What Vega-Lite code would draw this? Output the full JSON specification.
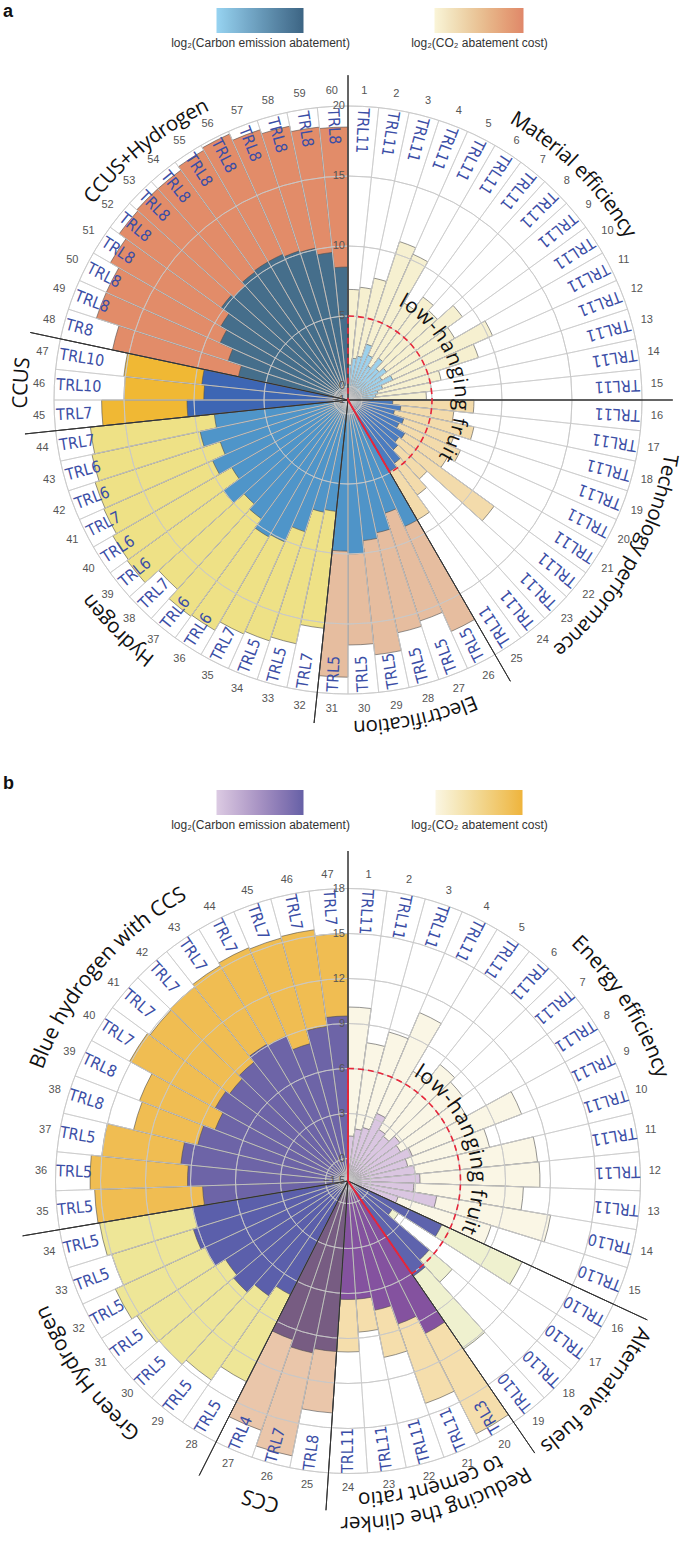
{
"$schema": "https://vega.github.io/schema/vega-lite/v6.json",
"width": 674, "height": 1552,
"autosize": {"type": "none"},
"padding": {"left": 11, "top": 0, "right": 0, "bottom": 0},
"background": "white",
"config": {"view": {"stroke": null}},
"datasets": {
"bars": [
{"panel":"a","id":1,"cat":"ME","cost":6.9,"ab":1.5,"trl":"TRL11"},
{"panel":"a","id":2,"cat":"ME","cost":7.1,"ab":2.0,"trl":"TRL11"},
{"panel":"a","id":3,"cat":"ME","cost":7.9,"ab":2.2,"trl":"TRL11"},
{"panel":"a","id":4,"cat":"ME","cost":10.9,"ab":3.2,"trl":"TRL11"},
{"panel":"a","id":5,"cat":"ME","cost":10.4,"ab":2.5,"trl":"TRL11"},
{"panel":"a","id":6,"cat":"ME","cost":7.0,"ab":1.8,"trl":"TRL11"},
{"panel":"a","id":7,"cat":"ME","cost":8.1,"ab":2.7,"trl":"TRL11"},
{"panel":"a","id":8,"cat":"ME","cost":7.6,"ab":2.0,"trl":"TRL11"},
{"panel":"a","id":9,"cat":"ME","cost":9.1,"ab":2.4,"trl":"TRL11"},
{"panel":"a","id":10,"cat":"ME","cost":7.8,"ab":1.8,"trl":"TRL11"},
{"panel":"a","id":11,"cat":"ME","cost":10.3,"ab":2.5,"trl":"TRL11"},
{"panel":"a","id":12,"cat":"ME","cost":8.8,"ab":1.6,"trl":"TRL11"},
{"panel":"a","id":13,"cat":"ME","cost":5.8,"ab":1.2,"trl":"TRL11"},
{"panel":"a","id":14,"cat":"ME","cost":5.0,"ab":1.0,"trl":"TRL11"},
{"panel":"a","id":15,"cat":"ME","cost":4.6,"ab":0.8,"trl":"TRL11"},
{"panel":"a","id":16,"cat":"TP","cost":8.0,"ab":2.2,"trl":"TRL11"},
{"panel":"a","id":17,"cat":"TP","cost":6.6,"ab":2.8,"trl":"TRL11"},
{"panel":"a","id":18,"cat":"TP","cost":8.2,"ab":2.4,"trl":"TRL11"},
{"panel":"a","id":19,"cat":"TP","cost":7.0,"ab":3.2,"trl":"TRL11"},
{"panel":"a","id":20,"cat":"TP","cost":7.8,"ab":3.0,"trl":"TRL11"},
{"panel":"a","id":21,"cat":"TP","cost":7.2,"ab":3.7,"trl":"TRL11"},
{"panel":"a","id":22,"cat":"TP","cost":11.9,"ab":3.5,"trl":"TRL11"},
{"panel":"a","id":23,"cat":"TP","cost":6.6,"ab":3.8,"trl":"TRL11"},
{"panel":"a","id":24,"cat":"TP","cost":7.4,"ab":4.6,"trl":"TRL11"},
{"panel":"a","id":25,"cat":"TP","cost":8.9,"ab":4.9,"trl":"TRL11"},
{"panel":"a","id":26,"cat":"EL","cost":17.1,"ab":8.9,"trl":"TRL5"},
{"panel":"a","id":27,"cat":"EL","cost":15.6,"ab":7.5,"trl":"TRL5"},
{"panel":"a","id":28,"cat":"EL","cost":16.0,"ab":8.7,"trl":"TRL5"},
{"panel":"a","id":29,"cat":"EL","cost":17.3,"ab":9.1,"trl":"TRL5"},
{"panel":"a","id":30,"cat":"EL","cost":16.5,"ab":10.0,"trl":"TRL5"},
{"panel":"a","id":31,"cat":"EL","cost":18.8,"ab":9.8,"trl":"TRL5"},
{"panel":"a","id":32,"cat":"HY","cost":15.4,"ab":7.0,"trl":"TRL7"},
{"panel":"a","id":33,"cat":"HY","cost":16.8,"ab":7.2,"trl":"TRL5"},
{"panel":"a","id":34,"cat":"HY","cost":17.1,"ab":8.9,"trl":"TRL5"},
{"panel":"a","id":35,"cat":"HY","cost":17.3,"ab":10.1,"trl":"TRL7"},
{"panel":"a","id":36,"cat":"HY","cost":18.0,"ab":10.3,"trl":"TRL6"},
{"panel":"a","id":37,"cat":"HY","cost":18.1,"ab":9.5,"trl":"TRL6"},
{"panel":"a","id":38,"cat":"HY","cost":17.2,"ab":9.0,"trl":"TRL7"},
{"panel":"a","id":39,"cat":"HY","cost":18.5,"ab":10.0,"trl":"TRL6"},
{"panel":"a","id":40,"cat":"HY","cost":18.4,"ab":8.6,"trl":"TRL6"},
{"panel":"a","id":41,"cat":"HY","cost":18.1,"ab":9.6,"trl":"TRL7"},
{"panel":"a","id":42,"cat":"HY","cost":18.0,"ab":8.6,"trl":"TRL6"},
{"panel":"a","id":43,"cat":"HY","cost":17.7,"ab":9.8,"trl":"TRL6"},
{"panel":"a","id":44,"cat":"HY","cost":17.5,"ab":8.6,"trl":"TRL7"},
{"panel":"a","id":45,"cat":"CU","cost":16.6,"ab":10.5,"trl":"TRL7"},
{"panel":"a","id":46,"cat":"CU","cost":15.0,"ab":9.3,"trl":"TRL10"},
{"panel":"a","id":47,"cat":"CU","cost":15.1,"ab":9.5,"trl":"TRL10"},
{"panel":"a","id":48,"cat":"CH","cost":16.2,"ab":7.0,"trl":"TR8"},
{"panel":"a","id":49,"cat":"CH","cost":17.9,"ab":8.0,"trl":"TRL8"},
{"panel":"a","id":50,"cat":"CH","cost":17.9,"ab":9.0,"trl":"TRL8"},
{"panel":"a","id":51,"cat":"CH","cost":18.6,"ab":9.5,"trl":"TRL8"},
{"panel":"a","id":52,"cat":"CH","cost":19.2,"ab":10.2,"trl":"TRL8"},
{"panel":"a","id":53,"cat":"CH","cost":19.3,"ab":10.0,"trl":"TRL8"},
{"panel":"a","id":54,"cat":"CH","cost":19.3,"ab":10.3,"trl":"TRL8"},
{"panel":"a","id":55,"cat":"CH","cost":19.6,"ab":10.4,"trl":"TRL8"},
{"panel":"a","id":56,"cat":"CH","cost":19.8,"ab":10.4,"trl":"TRL8"},
{"panel":"a","id":57,"cat":"CH","cost":19.3,"ab":10.2,"trl":"TRL8"},
{"panel":"a","id":58,"cat":"CH","cost":19.0,"ab":10.1,"trl":"TRL8"},
{"panel":"a","id":59,"cat":"CH","cost":18.6,"ab":9.6,"trl":"TRL8"},
{"panel":"a","id":60,"cat":"CH","cost":18.5,"ab":8.5,"trl":"TRL8"},
{"panel":"b","id":1,"cat":"EE","cost":10.1,"ab":1.5,"trl":"TRL11"},
{"panel":"b","id":2,"cat":"EE","cost":7.8,"ab":2.0,"trl":"TRL11"},
{"panel":"b","id":3,"cat":"EE","cost":8.8,"ab":2.2,"trl":"TRL11"},
{"panel":"b","id":4,"cat":"EE","cost":10.7,"ab":3.4,"trl":"TRL11"},
{"panel":"b","id":5,"cat":"EE","cost":7.0,"ab":2.5,"trl":"TRL11"},
{"panel":"b","id":6,"cat":"EE","cost":8.4,"ab":2.3,"trl":"TRL11"},
{"panel":"b","id":7,"cat":"EE","cost":8.0,"ab":2.8,"trl":"TRL11"},
{"panel":"b","id":8,"cat":"EE","cost":7.5,"ab":2.5,"trl":"TRL11"},
{"panel":"b","id":9,"cat":"EE","cost":10.9,"ab":3.1,"trl":"TRL11"},
{"panel":"b","id":10,"cat":"EE","cost":8.2,"ab":2.6,"trl":"TRL11"},
{"panel":"b","id":11,"cat":"EE","cost":11.2,"ab":3.0,"trl":"TRL11"},
{"panel":"b","id":12,"cat":"EE","cost":11.3,"ab":3.3,"trl":"TRL11"},
{"panel":"b","id":13,"cat":"EE","cost":10.2,"ab":2.9,"trl":"TRL11"},
{"panel":"b","id":14,"cat":"EE","cost":12.2,"ab":4.5,"trl":"TRL10"},
{"panel":"b","id":15,"cat":"EE","cost":8.5,"ab":2.0,"trl":"TRL10"},
{"panel":"b","id":16,"cat":"AF","cost":11.3,"ab":5.4,"trl":"TRL10"},
{"panel":"b","id":17,"cat":"AF","cost":2.5,"ab":2.0,"trl":"TRL10"},
{"panel":"b","id":18,"cat":"AF","cost":7.6,"ab":5.6,"trl":"TRL10"},
{"panel":"b","id":19,"cat":"AF","cost":12.1,"ab":6.2,"trl":"TRL10"},
{"panel":"b","id":20,"cat":"RC","cost":17.4,"ab":9.9,"trl":"TRL3"},
{"panel":"b","id":21,"cat":"RC","cost":14.2,"ab":8.6,"trl":"TRL11"},
{"panel":"b","id":22,"cat":"RC","cost":10.5,"ab":7.3,"trl":"TRL11"},
{"panel":"b","id":23,"cat":"RC","cost":8.6,"ab":6.4,"trl":"TRL11"},
{"panel":"b","id":24,"cat":"RC","cost":9.9,"ab":6.4,"trl":"TRL11"},
{"panel":"b","id":25,"cat":"CS","cost":14.0,"ab":9.9,"trl":"TRL8"},
{"panel":"b","id":26,"cat":"CS","cost":17.2,"ab":10.2,"trl":"TRL7"},
{"panel":"b","id":27,"cat":"CS","cost":16.1,"ab":9.7,"trl":"TRL4"},
{"panel":"b","id":28,"cat":"GH","cost":13.5,"ab":7.0,"trl":"TRL5"},
{"panel":"b","id":29,"cat":"GH","cost":14.6,"ab":7.8,"trl":"TRL5"},
{"panel":"b","id":30,"cat":"GH","cost":15.0,"ab":8.5,"trl":"TRL5"},
{"panel":"b","id":31,"cat":"GH","cost":15.2,"ab":8.2,"trl":"TRL5"},
{"panel":"b","id":32,"cat":"GH","cost":15.6,"ab":9.0,"trl":"TRL5"},
{"panel":"b","id":33,"cat":"GH","cost":15.0,"ab":9.3,"trl":"TRL5"},
{"panel":"b","id":34,"cat":"GH","cost":15.3,"ab":9.0,"trl":"TRL5"},
{"panel":"b","id":35,"cat":"BH","cost":15.4,"ab":8.2,"trl":"TRL5"},
{"panel":"b","id":36,"cat":"BH","cost":15.7,"ab":9.2,"trl":"TRL5"},
{"panel":"b","id":37,"cat":"BH","cost":15.0,"ab":9.7,"trl":"TRL5"},
{"panel":"b","id":38,"cat":"BH","cost":13.2,"ab":8.8,"trl":"TRL8"},
{"panel":"b","id":39,"cat":"BH","cost":13.4,"ab":8.0,"trl":"TRL8"},
{"panel":"b","id":40,"cat":"BH","cost":15.1,"ab":8.6,"trl":"TRL7"},
{"panel":"b","id":41,"cat":"BH","cost":14.9,"ab":8.3,"trl":"TRL7"},
{"panel":"b","id":42,"cat":"BH","cost":15.0,"ab":8.6,"trl":"TRL7"},
{"panel":"b","id":43,"cat":"BH","cost":15.2,"ab":9.1,"trl":"TRL7"},
{"panel":"b","id":44,"cat":"BH","cost":15.4,"ab":9.0,"trl":"TRL7"},
{"panel":"b","id":45,"cat":"BH","cost":15.3,"ab":8.0,"trl":"TRL7"},
{"panel":"b","id":46,"cat":"BH","cost":15.4,"ab":8.9,"trl":"TRL7"},
{"panel":"b","id":47,"cat":"BH","cost":15.0,"ab":9.5,"trl":"TRL7"}
],
"cats": [
{"panel":"a","kind":"cat","text":"Material efficiency","first":1,"last":15},
{"panel":"a","kind":"cat","text":"Technology performance","first":16,"last":25},
{"panel":"a","kind":"cat","text":"Electrification","first":26,"last":31},
{"panel":"a","kind":"cat","text":"Hydrogen","first":32,"last":44},
{"panel":"a","kind":"cat","text":"CCUS","first":45,"last":47},
{"panel":"a","kind":"cat","text":"CCUS+Hydrogen","first":48,"last":60},
{"panel":"a","kind":"lhf","text":"low-hanging fruit","first":1,"last":25},
{"panel":"b","kind":"cat","text":"Energy efficiency","first":1,"last":15},
{"panel":"b","kind":"cat","text":"Alternative fuels","first":16,"last":19},
{"panel":"b","kind":"catout","text":"Reducing the clinker","first":20,"last":24},
{"panel":"b","kind":"catin","text":"to cement ratio","first":20,"last":24},
{"panel":"b","kind":"cat","text":"CCS","first":25,"last":27},
{"panel":"b","kind":"cat","text":"Green Hydrogen","first":28,"last":34},
{"panel":"b","kind":"cat","text":"Blue hydrogen with CCS","first":35,"last":47},
{"panel":"b","kind":"lhf","text":"low-hanging fruit","first":1,"last":19}
],
"ticks": [
{"panel":"a","v":-1},{"panel":"a","v":0},{"panel":"a","v":5},{"panel":"a","v":10},{"panel":"a","v":15},{"panel":"a","v":20},
{"panel":"b","v":-1.5},{"panel":"b","v":0},{"panel":"b","v":3},{"panel":"b","v":6},{"panel":"b","v":9},{"panel":"b","v":12},{"panel":"b","v":15},{"panel":"b","v":18}
]
},
"layer": [
{
"data": {"name": "bars"},
"transform": [{"filter": "datum.panel=='a'"},{"calculate": "(datum.id-1)/60","as": "t0"},{"calculate": "datum.id/60","as": "t1"}],
"mark": {"type": "arc","fillOpacity": 0,"strokeOpacity": 0},
"encoding": {
"y": {"field":"panel","type":"nominal","scale":{"type":"point","domain":["a","b"],"range":[400,1181],"padding":0},"axis":null},
"theta": {"field":"t0","type":"quantitative","scale":{"domain":[0,1],"range":[0,6.283185307179586]},"stack":null},
"theta2": {"field":"t1"},
"radius": {"field":"ab","type":"quantitative","scale":{"type":"linear","domain":[-1,20],"range":[0,294]},"stack":null},
"color": {"field":"ab","type":"quantitative","scale":{"range":["#97d3f1","#3d6584"]},
"legend":{"orient":"none","legendX":160.5,"legendY":8,"direction":"horizontal","gradientLength":87,"gradientThickness":25,"gradientStrokeWidth":0,"gradientOpacity":1,"labelExpr":"''","labelFontSize":1,"labelOpacity":0,"labelOffset":0,"title":"log₂(Carbon emission abatement)","titleOrient":"bottom","titleAnchor":"middle","titleFontSize":12,"titleFontWeight":"normal","titleFont":"Liberation Sans Narrow, Liberation Sans, sans-serif","titleColor":"#333","titlePadding":4,"padding":0}}
}
},
{
"data": {"name": "bars"},
"transform": [{"filter": "datum.panel=='a'"},{"calculate": "(datum.id-1)/60","as": "t0"},{"calculate": "datum.id/60","as": "t1"}],
"mark": {"type": "arc","fillOpacity": 0,"strokeOpacity": 0},
"encoding": {
"y": {"field":"panel","type":"nominal","scale":{"type":"point","domain":["a","b"],"range":[400,1181],"padding":0},"axis":null},
"theta": {"field":"t0","type":"quantitative","scale":{"domain":[0,1],"range":[0,6.283185307179586]},"stack":null},
"theta2": {"field":"t1"},
"radius": {"field":"cost","type":"quantitative","scale":{"type":"linear","domain":[-1,20],"range":[0,294]},"stack":null},
"color": {"field":"cost","type":"quantitative","scale":{"range":["#faf5d8","#e0876a"]},
"legend":{"orient":"none","legendX":400.5,"legendY":8,"direction":"horizontal","gradientLength":89,"gradientThickness":25,"gradientStrokeWidth":0,"gradientOpacity":1,"labelExpr":"''","labelFontSize":1,"labelOpacity":0,"labelOffset":0,"title":"log₂(CO₂ abatement cost)","titleOrient":"bottom","titleAnchor":"middle","titleFontSize":12,"titleFontWeight":"normal","titleFont":"Liberation Sans Narrow, Liberation Sans, sans-serif","titleColor":"#333","titlePadding":4,"padding":0}}
}
},
{
"data": {"name": "bars"},
"transform": [{"filter": "datum.panel=='b'"},{"calculate": "(datum.id-1)/47","as": "t0"},{"calculate": "datum.id/47","as": "t1"}],
"mark": {"type": "arc","fillOpacity": 0,"strokeOpacity": 0},
"encoding": {
"y": {"field":"panel","type":"nominal","scale":{"type":"point","domain":["a","b"],"range":[400,1181],"padding":0},"axis":null},
"theta": {"field":"t0","type":"quantitative","scale":{"domain":[0,1],"range":[0,6.283185307179586]},"stack":null},
"theta2": {"field":"t1"},
"radius": {"field":"ab","type":"quantitative","scale":{"type":"linear","domain":[-1.5,18],"range":[0,292.5]},"stack":null},
"color": {"field":"ab","type":"quantitative","scale":{"range":["#dccbe3","#6660a6"]},
"legend":{"orient":"none","legendX":160.5,"legendY":790,"direction":"horizontal","gradientLength":87,"gradientThickness":25,"gradientStrokeWidth":0,"gradientOpacity":1,"labelExpr":"''","labelFontSize":1,"labelOpacity":0,"labelOffset":0,"title":"log₂(Carbon emission abatement)","titleOrient":"bottom","titleAnchor":"middle","titleFontSize":12,"titleFontWeight":"normal","titleFont":"Liberation Sans Narrow, Liberation Sans, sans-serif","titleColor":"#333","titlePadding":4,"padding":0}}
}
},
{
"data": {"name": "bars"},
"transform": [{"filter": "datum.panel=='b'"},{"calculate": "(datum.id-1)/47","as": "t0"},{"calculate": "datum.id/47","as": "t1"}],
"mark": {"type": "arc","fillOpacity": 0,"strokeOpacity": 0},
"encoding": {
"y": {"field":"panel","type":"nominal","scale":{"type":"point","domain":["a","b"],"range":[400,1181],"padding":0},"axis":null},
"theta": {"field":"t0","type":"quantitative","scale":{"domain":[0,1],"range":[0,6.283185307179586]},"stack":null},
"theta2": {"field":"t1"},
"radius": {"field":"cost","type":"quantitative","scale":{"type":"linear","domain":[-1.5,18],"range":[0,292.5]},"stack":null},
"color": {"field":"cost","type":"quantitative","scale":{"range":["#fbf6e3","#efb43c"]},
"legend":{"orient":"none","legendX":400.5,"legendY":790,"direction":"horizontal","gradientLength":87,"gradientThickness":25,"gradientStrokeWidth":0,"gradientOpacity":1,"labelExpr":"''","labelFontSize":1,"labelOpacity":0,"labelOffset":0,"title":"log₂(CO₂ abatement cost)","titleOrient":"bottom","titleAnchor":"middle","titleFontSize":12,"titleFontWeight":"normal","titleFont":"Liberation Sans Narrow, Liberation Sans, sans-serif","titleColor":"#333","titlePadding":4,"padding":0}}
}
},
{
"data": {"name": "bars"},
"transform": [{"filter": "datum.panel=='a'"},{"calculate": "(datum.id-1)/60","as": "t0"},{"calculate": "datum.id/60","as": "t1"},{"calculate": "-1","as": "r0"}],
"mark": {"type": "arc","stroke": "#4d4d4d","strokeWidth": 0.6},
"encoding": {
"y": {"field":"panel","type":"nominal","scale":{"type":"point","domain":["a","b"],"range":[400,1181],"padding":0},"axis":null},
"theta": {"field":"t0","type":"quantitative","scale":{"domain":[0,1],"range":[0,6.283185307179586]},"stack":null},
"theta2": {"field":"t1"},
"radius": {"field":"cost","type":"quantitative","scale":{"type":"linear","domain":[-1,20],"range":[0,294]},"stack":null},
"radius2": {"field":"r0"},
"fill": {"field":"cat","type":"nominal","scale":{"domain":["ME","TP","EL","HY","CU","CH"],"range":["#f6f0d0","#f3dbab","#e6bd9f","#eee186","#f0b834","#e28c69"]},"legend":null}
}
},
{
"data": {"name": "bars"},
"transform": [{"filter": "datum.panel=='a'"},{"calculate": "(datum.id-1)/60","as": "t0"},{"calculate": "datum.id/60","as": "t1"},{"calculate": "-1","as": "r0"}],
"mark": {"type": "arc","stroke": "#4d4d4d","strokeWidth": 0.6},
"encoding": {
"y": {"field":"panel","type":"nominal","scale":{"type":"point","domain":["a","b"],"range":[400,1181],"padding":0},"axis":null},
"theta": {"field":"t0","type":"quantitative","scale":{"domain":[0,1],"range":[0,6.283185307179586]},"stack":null},
"theta2": {"field":"t1"},
"radius": {"field":"ab","type":"quantitative","scale":{"type":"linear","domain":[-1,20],"range":[0,294]},"stack":null},
"radius2": {"field":"r0"},
"fill": {"field":"cat","type":"nominal","scale":{"domain":["ME","TP","EL","HY","CU","CH"],"range":["#9dd1ec","#4b7cc0","#4f94c8","#4f95c9","#3d66b4","#456e8b"]},"legend":null}
}
},
{
"data": {"name": "bars"},
"transform": [{"filter": "datum.panel=='b'"},{"calculate": "(datum.id-1)/47","as": "t0"},{"calculate": "datum.id/47","as": "t1"},{"calculate": "-1.5","as": "r0"}],
"mark": {"type": "arc","stroke": "#4d4d4d","strokeWidth": 0.6},
"encoding": {
"y": {"field":"panel","type":"nominal","scale":{"type":"point","domain":["a","b"],"range":[400,1181],"padding":0},"axis":null},
"theta": {"field":"t0","type":"quantitative","scale":{"domain":[0,1],"range":[0,6.283185307179586]},"stack":null},
"theta2": {"field":"t1"},
"radius": {"field":"cost","type":"quantitative","scale":{"type":"linear","domain":[-1.5,18],"range":[0,292.5]},"stack":null},
"radius2": {"field":"r0"},
"fill": {"field":"cat","type":"nominal","scale":{"domain":["EE","AF","RC","CS","GH","BH"],"range":["#faf6e5","#eff1cf","#f5deac","#eac6aa","#eee697","#f0bd52"]},"legend":null}
}
},
{
"data": {"name": "bars"},
"transform": [{"filter": "datum.panel=='b'"},{"calculate": "(datum.id-1)/47","as": "t0"},{"calculate": "datum.id/47","as": "t1"},{"calculate": "-1.5","as": "r0"}],
"mark": {"type": "arc","stroke": "#4d4d4d","strokeWidth": 0.6},
"encoding": {
"y": {"field":"panel","type":"nominal","scale":{"type":"point","domain":["a","b"],"range":[400,1181],"padding":0},"axis":null},
"theta": {"field":"t0","type":"quantitative","scale":{"domain":[0,1],"range":[0,6.283185307179586]},"stack":null},
"theta2": {"field":"t1"},
"radius": {"field":"ab","type":"quantitative","scale":{"type":"linear","domain":[-1.5,18],"range":[0,292.5]},"stack":null},
"radius2": {"field":"r0"},
"fill": {"field":"cat","type":"nominal","scale":{"domain":["EE","AF","RC","CS","GH","BH"],"range":["#dac6e1","#5e63ad","#84529f","#775c82","#5b5fab","#6d64a7"]},"legend":null}
}
},
{
"data": {"name": "ticks"},
"transform": [{"filter": "datum.panel=='a' && datum.v>=0"},{"calculate": "0","as": "z0"},{"calculate": "1","as": "z1"}],
"mark": {"type": "arc","filled": false,"stroke": "#c8c8c8","strokeWidth": 0.8},
"encoding": {
"y": {"field":"panel","type":"nominal","scale":{"type":"point","domain":["a","b"],"range":[400,1181],"padding":0},"axis":null},
"theta": {"field":"z0","type":"quantitative","scale":{"domain":[0,1],"range":[0,6.283185307179586]},"stack":null},
"theta2": {"field":"z1"},
"radius": {"field":"v","type":"quantitative","scale":{"type":"linear","domain":[-1,20],"range":[0,294]},"stack":null},
"radius2": {"field":"v"}
}
},
{
"data": {"name": "ticks"},
"transform": [{"filter": "datum.panel=='b' && datum.v>=0"},{"calculate": "0","as": "z0"},{"calculate": "1","as": "z1"}],
"mark": {"type": "arc","filled": false,"stroke": "#c8c8c8","strokeWidth": 0.8},
"encoding": {
"y": {"field":"panel","type":"nominal","scale":{"type":"point","domain":["a","b"],"range":[400,1181],"padding":0},"axis":null},
"theta": {"field":"z0","type":"quantitative","scale":{"domain":[0,1],"range":[0,6.283185307179586]},"stack":null},
"theta2": {"field":"z1"},
"radius": {"field":"v","type":"quantitative","scale":{"type":"linear","domain":[-1.5,18],"range":[0,292.5]},"stack":null},
"radius2": {"field":"v"}
}
},
{
"data": {"name": "bars"},
"transform": [{"filter": "datum.panel=='a'"},{"calculate": "(datum.id-1)/60","as": "t0"},{"calculate": "20","as": "r1"},{"calculate": "-1","as": "r0"}],
"mark": {"type": "arc","filled": false,"stroke": "#c8c8c8","strokeWidth": 0.7},
"encoding": {
"y": {"field":"panel","type":"nominal","scale":{"type":"point","domain":["a","b"],"range":[400,1181],"padding":0},"axis":null},
"theta": {"field":"t0","type":"quantitative","scale":{"domain":[0,1],"range":[0,6.283185307179586]},"stack":null},
"theta2": {"field":"t0"},
"radius": {"field":"r1","type":"quantitative","scale":{"type":"linear","domain":[-1,20],"range":[0,294]},"stack":null},
"radius2": {"field":"r0"}
}
},
{
"data": {"name": "bars"},
"transform": [{"filter": "datum.panel=='b'"},{"calculate": "(datum.id-1)/47","as": "t0"},{"calculate": "18","as": "r1"},{"calculate": "-1.5","as": "r0"}],
"mark": {"type": "arc","filled": false,"stroke": "#c8c8c8","strokeWidth": 0.7},
"encoding": {
"y": {"field":"panel","type":"nominal","scale":{"type":"point","domain":["a","b"],"range":[400,1181],"padding":0},"axis":null},
"theta": {"field":"t0","type":"quantitative","scale":{"domain":[0,1],"range":[0,6.283185307179586]},"stack":null},
"theta2": {"field":"t0"},
"radius": {"field":"r1","type":"quantitative","scale":{"type":"linear","domain":[-1.5,18],"range":[0,292.5]},"stack":null},
"radius2": {"field":"r0"}
}
},
{
"data": {"name": "cats"},
"transform": [{"filter": "datum.panel=='a' && datum.kind=='cat'"},{"calculate": "(datum.first-1)/60","as": "te"},{"calculate": "22.2","as": "r1"},{"calculate": "-1","as": "r0"}],
"mark": {"type": "arc","filled": false,"stroke": "#333333","strokeWidth": 1},
"encoding": {
"y": {"field":"panel","type":"nominal","scale":{"type":"point","domain":["a","b"],"range":[400,1181],"padding":0},"axis":null},
"theta": {"field":"te","type":"quantitative","scale":{"domain":[0,1],"range":[0,6.283185307179586]},"stack":null},
"theta2": {"field":"te"},
"radius": {"field":"r1","type":"quantitative","scale":{"type":"linear","domain":[-1,20],"range":[0,294]},"stack":null},
"radius2": {"field":"r0"}
}
},
{
"data": {"name": "cats"},
"transform": [{"filter": "datum.panel=='b' && (datum.kind=='cat' || datum.kind=='catout')"},{"calculate": "(datum.first-1)/47","as": "te"},{"calculate": "20.5","as": "r1"},{"calculate": "-1.5","as": "r0"}],
"mark": {"type": "arc","filled": false,"stroke": "#333333","strokeWidth": 1},
"encoding": {
"y": {"field":"panel","type":"nominal","scale":{"type":"point","domain":["a","b"],"range":[400,1181],"padding":0},"axis":null},
"theta": {"field":"te","type":"quantitative","scale":{"domain":[0,1],"range":[0,6.283185307179586]},"stack":null},
"theta2": {"field":"te"},
"radius": {"field":"r1","type":"quantitative","scale":{"type":"linear","domain":[-1.5,18],"range":[0,292.5]},"stack":null},
"radius2": {"field":"r0"}
}
},
{
"data": {"name": "cats"},
"transform": [{"filter": "datum.panel=='a' && datum.kind=='lhf'"},{"calculate": "datum.last/60","as": "te"},{"calculate": "0","as": "z0"},{"calculate": "5","as": "r1"},{"calculate": "-1","as": "r0"}],
"mark": {"type": "arc","filled": false,"stroke": "#e8263a","strokeWidth": 1.6,"strokeDash": [6,4]},
"encoding": {
"y": {"field":"panel","type":"nominal","scale":{"type":"point","domain":["a","b"],"range":[400,1181],"padding":0},"axis":null},
"theta": {"field":"z0","type":"quantitative","scale":{"domain":[0,1],"range":[0,6.283185307179586]},"stack":null},
"theta2": {"field":"te"},
"radius": {"field":"r1","type":"quantitative","scale":{"type":"linear","domain":[-1,20],"range":[0,294]},"stack":null},
"radius2": {"field":"r0"}
}
},
{
"data": {"name": "cats"},
"transform": [{"filter": "datum.panel=='b' && datum.kind=='lhf'"},{"calculate": "datum.last/47","as": "te"},{"calculate": "0","as": "z0"},{"calculate": "6","as": "r1"},{"calculate": "-1.5","as": "r0"}],
"mark": {"type": "arc","filled": false,"stroke": "#e8263a","strokeWidth": 1.6,"strokeDash": [6,4]},
"encoding": {
"y": {"field":"panel","type":"nominal","scale":{"type":"point","domain":["a","b"],"range":[400,1181],"padding":0},"axis":null},
"theta": {"field":"z0","type":"quantitative","scale":{"domain":[0,1],"range":[0,6.283185307179586]},"stack":null},
"theta2": {"field":"te"},
"radius": {"field":"r1","type":"quantitative","scale":{"type":"linear","domain":[-1.5,18],"range":[0,292.5]},"stack":null},
"radius2": {"field":"r0"}
}
},
{
"data": {"name": "cats"},
"transform": [{"filter": "datum.panel=='a' && datum.kind=='lhf'"},{"calculate": "datum.last/60","as": "te"},{"calculate": "5","as": "r1"},{"calculate": "-1","as": "r0"}],
"mark": {"type": "arc","filled": false,"stroke": "#e8263a","strokeWidth": 1.8},
"encoding": {
"y": {"field":"panel","type":"nominal","scale":{"type":"point","domain":["a","b"],"range":[400,1181],"padding":0},"axis":null},
"theta": {"field":"te","type":"quantitative","scale":{"domain":[0,1],"range":[0,6.283185307179586]},"stack":null},
"theta2": {"field":"te"},
"radius": {"field":"r1","type":"quantitative","scale":{"type":"linear","domain":[-1,20],"range":[0,294]},"stack":null},
"radius2": {"field":"r0"}
}
},
{
"data": {"name": "cats"},
"transform": [{"filter": "datum.panel=='b' && datum.kind=='lhf'"},{"calculate": "datum.last/47","as": "te"},{"calculate": "6","as": "r1"},{"calculate": "-1.5","as": "r0"}],
"mark": {"type": "arc","filled": false,"stroke": "#e8263a","strokeWidth": 1.8},
"encoding": {
"y": {"field":"panel","type":"nominal","scale":{"type":"point","domain":["a","b"],"range":[400,1181],"padding":0},"axis":null},
"theta": {"field":"te","type":"quantitative","scale":{"domain":[0,1],"range":[0,6.283185307179586]},"stack":null},
"theta2": {"field":"te"},
"radius": {"field":"r1","type":"quantitative","scale":{"type":"linear","domain":[-1.5,18],"range":[0,292.5]},"stack":null},
"radius2": {"field":"r0"}
}
},
{
"data": {"name": "cats"},
"transform": [{"filter": "datum.panel=='b' && datum.kind=='lhf'"},{"calculate": "(datum.first-1)/47","as": "ts"},{"calculate": "6","as": "r1"},{"calculate": "-1.5","as": "r0"}],
"mark": {"type": "arc","filled": false,"stroke": "#e8263a","strokeWidth": 1.8},
"encoding": {
"y": {"field":"panel","type":"nominal","scale":{"type":"point","domain":["a","b"],"range":[400,1181],"padding":0},"axis":null},
"theta": {"field":"ts","type":"quantitative","scale":{"domain":[0,1],"range":[0,6.283185307179586]},"stack":null},
"theta2": {"field":"ts"},
"radius": {"field":"r1","type":"quantitative","scale":{"type":"linear","domain":[-1.5,18],"range":[0,292.5]},"stack":null},
"radius2": {"field":"r0"}
}
},
{
"data": {"name": "ticks"},
"transform": [{"filter": "datum.panel=='a'"},{"calculate": "0","as": "z0"}],
"mark": {"type": "text","align": "right","baseline": "middle","dx": -3,"fontSize": 11,"font": "Liberation Sans, sans-serif","color": "#555555"},
"encoding": {
"y": {"field":"panel","type":"nominal","scale":{"type":"point","domain":["a","b"],"range":[400,1181],"padding":0},"axis":null},
"theta": {"field":"z0","type":"quantitative","scale":{"domain":[0,1],"range":[0,6.283185307179586]},"stack":null},
"radius": {"field":"v","type":"quantitative","scale":{"type":"linear","domain":[-1,20],"range":[0,294]},"stack":null},
"text": {"field":"v","type":"quantitative"}
}
},
{
"data": {"name": "ticks"},
"transform": [{"filter": "datum.panel=='b'"},{"calculate": "0","as": "z0"}],
"mark": {"type": "text","align": "right","baseline": "middle","dx": -3,"fontSize": 11,"font": "Liberation Sans, sans-serif","color": "#555555"},
"encoding": {
"y": {"field":"panel","type":"nominal","scale":{"type":"point","domain":["a","b"],"range":[400,1181],"padding":0},"axis":null},
"theta": {"field":"z0","type":"quantitative","scale":{"domain":[0,1],"range":[0,6.283185307179586]},"stack":null},
"radius": {"field":"v","type":"quantitative","scale":{"type":"linear","domain":[-1.5,18],"range":[0,292.5]},"stack":null},
"text": {"field":"v","type":"quantitative"}
}
},
{
"data": {"name": "bars"},
"transform": [{"filter": "datum.panel=='a'"},{"calculate": "(datum.id-0.5)/60","as": "tm"},{"calculate": "datum.tm*360+90","as": "rot"},{"calculate": "19.86","as": "rl"}],
"mark": {"type": "text","align": "left","baseline": "middle","fontSize": 16,"font": "Liberation Sans Narrow, DejaVu Sans Condensed, sans-serif","color": "#3b4ea6"},
"encoding": {
"y": {"field":"panel","type":"nominal","scale":{"type":"point","domain":["a","b"],"range":[400,1181],"padding":0},"axis":null},
"theta": {"field":"tm","type":"quantitative","scale":{"domain":[0,1],"range":[0,6.283185307179586]},"stack":null},
"radius": {"field":"rl","type":"quantitative","scale":{"type":"linear","domain":[-1,20],"range":[0,294]},"stack":null},
"angle": {"field":"rot","type":"quantitative","scale":null},
"text": {"field":"trl","type":"nominal"}
}
},
{
"data": {"name": "bars"},
"transform": [{"filter": "datum.panel=='b'"},{"calculate": "(datum.id-0.5)/47","as": "tm"},{"calculate": "datum.tm*360+90","as": "rot"},{"calculate": "17.97","as": "rl"}],
"mark": {"type": "text","align": "left","baseline": "middle","fontSize": 16,"font": "Liberation Sans Narrow, DejaVu Sans Condensed, sans-serif","color": "#3b4ea6"},
"encoding": {
"y": {"field":"panel","type":"nominal","scale":{"type":"point","domain":["a","b"],"range":[400,1181],"padding":0},"axis":null},
"theta": {"field":"tm","type":"quantitative","scale":{"domain":[0,1],"range":[0,6.283185307179586]},"stack":null},
"radius": {"field":"rl","type":"quantitative","scale":{"type":"linear","domain":[-1.5,18],"range":[0,292.5]},"stack":null},
"angle": {"field":"rot","type":"quantitative","scale":null},
"text": {"field":"trl","type":"nominal"}
}
},
{
"data": {"name": "bars"},
"transform": [{"filter": "datum.panel=='a'"},{"calculate": "(datum.id-0.5)/60","as": "tm"},{"calculate": "21.1","as": "rl"}],
"mark": {"type": "text","align": "center","baseline": "middle","fontSize": 11,"font": "Liberation Sans, sans-serif","color": "#555555"},
"encoding": {
"y": {"field":"panel","type":"nominal","scale":{"type":"point","domain":["a","b"],"range":[400,1181],"padding":0},"axis":null},
"theta": {"field":"tm","type":"quantitative","scale":{"domain":[0,1],"range":[0,6.283185307179586]},"stack":null},
"radius": {"field":"rl","type":"quantitative","scale":{"type":"linear","domain":[-1,20],"range":[0,294]},"stack":null},
"text": {"field":"id","type":"nominal"}
}
},
{
"data": {"name": "bars"},
"transform": [{"filter": "datum.panel=='b'"},{"calculate": "(datum.id-0.5)/47","as": "tm"},{"calculate": "18.97","as": "rl"}],
"mark": {"type": "text","align": "center","baseline": "middle","fontSize": 11,"font": "Liberation Sans, sans-serif","color": "#555555"},
"encoding": {
"y": {"field":"panel","type":"nominal","scale":{"type":"point","domain":["a","b"],"range":[400,1181],"padding":0},"axis":null},
"theta": {"field":"tm","type":"quantitative","scale":{"domain":[0,1],"range":[0,6.283185307179586]},"stack":null},
"radius": {"field":"rl","type":"quantitative","scale":{"type":"linear","domain":[-1.5,18],"range":[0,292.5]},"stack":null},
"text": {"field":"id","type":"nominal"}
}
},
{
"data": {"name": "cats"},
"transform": [
{"filter": "datum.panel=='a'"},
{"calculate": "split(datum.text,'')","as": "chars"},
{"flatten": ["chars"],"as": ["ch"]},
{"window": [{"op":"row_number","as":"idx"}],"groupby": ["text"]},
{"calculate": "indexof('abcdefghijklmnopqrstuvwxyz -+ABCEFGHLMRSTU', datum.ch) < 0 ? 0.6 : [0.556,0.613,0.476,0.613,0.561,0.339,0.548,0.614,0.253,0.253,0.525,0.253,0.93,0.614,0.604,0.613,0.613,0.408,0.477,0.353,0.614,0.501,0.778,0.524,0.502,0.477,0.26,0.322,0.571,0.633,0.648,0.631,0.556,0.516,0.728,0.738,0.524,0.903,0.624,0.549,0.552,0.728][indexof('abcdefghijklmnopqrstuvwxyz -+ABCEFGHLMRSTU', datum.ch)]","as": "w"},
{"window": [{"op":"sum","field":"w","as":"cum"}],"groupby": ["text"],"sort": [{"field":"idx","order":"ascending"}],"frame": [null,0]},
{"joinaggregate": [{"op":"sum","field":"w","as":"tot"}],"groupby": ["text"]},
{"calculate": "datum.kind=='lhf' ? 113 : 327","as": "R"},
{"calculate": "datum.kind=='lhf' ? 21*1.12 : 20","as": "fs"},
{"calculate": "datum.R/14-1","as": "rv"},
{"calculate": "(datum.first-1+datum.last)/2/60+(datum.cum-datum.w/2-datum.tot/2)*datum.fs/(2*PI*datum.R)","as": "tc"},
{"calculate": "datum.tc*360","as": "rot"}
],
"mark": {"type": "text","align": "center","baseline": "middle","fontSize": 20.5,"font": "Open Sans, sans-serif","color": "#111111"},
"encoding": {
"y": {"field":"panel","type":"nominal","scale":{"type":"point","domain":["a","b"],"range":[400,1181],"padding":0},"axis":null},
"theta": {"field":"tc","type":"quantitative","scale":{"domain":[0,1],"range":[0,6.283185307179586]},"stack":null},
"radius": {"field":"rv","type":"quantitative","scale":{"type":"linear","domain":[-1,20],"range":[0,294]},"stack":null},
"angle": {"field":"rot","type":"quantitative","scale":null},
"text": {"field":"ch","type":"nominal"}
}
},
{
"data": {"name": "cats"},
"transform": [
{"filter": "datum.panel=='b'"},
{"calculate": "split(datum.text,'')","as": "chars"},
{"flatten": ["chars"],"as": ["ch"]},
{"window": [{"op":"row_number","as":"idx"}],"groupby": ["text"]},
{"calculate": "indexof('abcdefghijklmnopqrstuvwxyz -+ABCEFGHLMRSTU', datum.ch) < 0 ? 0.6 : [0.556,0.613,0.476,0.613,0.561,0.339,0.548,0.614,0.253,0.253,0.525,0.253,0.93,0.614,0.604,0.613,0.613,0.408,0.477,0.353,0.614,0.501,0.778,0.524,0.502,0.477,0.26,0.322,0.571,0.633,0.648,0.631,0.556,0.516,0.728,0.738,0.524,0.903,0.624,0.549,0.552,0.728][indexof('abcdefghijklmnopqrstuvwxyz -+ABCEFGHLMRSTU', datum.ch)]","as": "w"},
{"window": [{"op":"sum","field":"w","as":"cum"}],"groupby": ["text"],"sort": [{"field":"idx","order":"ascending"}],"frame": [null,0]},
{"joinaggregate": [{"op":"sum","field":"w","as":"tot"}],"groupby": ["text"]},
{"calculate": "datum.kind=='lhf' ? 130 : (datum.kind=='catout' ? 342 : (datum.kind=='catin' ? 318 : 331))","as": "R"},
{"calculate": "datum.kind=='lhf' ? 1.12 : 1","as": "sp"},
{"calculate": "datum.R/15-1.5","as": "rv"},
{"calculate": "(datum.first-1+datum.last)/2/47+(datum.cum-datum.w/2-datum.tot/2)*21*datum.sp/(2*PI*datum.R)","as": "tc"},
{"calculate": "datum.tc*360","as": "rot"}
],
"mark": {"type": "text","align": "center","baseline": "middle","fontSize": 21,"font": "Open Sans, sans-serif","color": "#111111"},
"encoding": {
"y": {"field":"panel","type":"nominal","scale":{"type":"point","domain":["a","b"],"range":[400,1181],"padding":0},"axis":null},
"theta": {"field":"tc","type":"quantitative","scale":{"domain":[0,1],"range":[0,6.283185307179586]},"stack":null},
"radius": {"field":"rv","type":"quantitative","scale":{"type":"linear","domain":[-1.5,18],"range":[0,292.5]},"stack":null},
"angle": {"field":"rot","type":"quantitative","scale":null},
"text": {"field":"ch","type":"nominal"}
}
},
{
"data": {"name": "cats"},
"transform": [{"filter": "datum.kind=='lhf'"},{"calculate": "datum.panel=='a' ? 0.88433 : 0.88614","as": "tl"},{"calculate": "datum.panel=='a' ? 36.09 : 36.57","as": "rl"}],
"mark": {"type": "text","align": "left","baseline": "middle","fontSize": 18,"fontWeight": "bold","font": "Liberation Sans, sans-serif","color": "#111111"},
"encoding": {
"y": {"field":"panel","type":"nominal","scale":{"type":"point","domain":["a","b"],"range":[400,1181],"padding":0},"axis":null},
"theta": {"field":"tl","type":"quantitative","scale":{"domain":[0,1],"range":[0,6.283185307179586]},"stack":null},
"radius": {"field":"rl","type":"quantitative","scale":{"type":"linear","domain":[-1,20],"range":[0,294]},"stack":null},
"text": {"field":"panel","type":"nominal"}
}
}
],
"resolve": {"scale": {"radius": "independent","color": "independent","fill": "independent"}}
}
